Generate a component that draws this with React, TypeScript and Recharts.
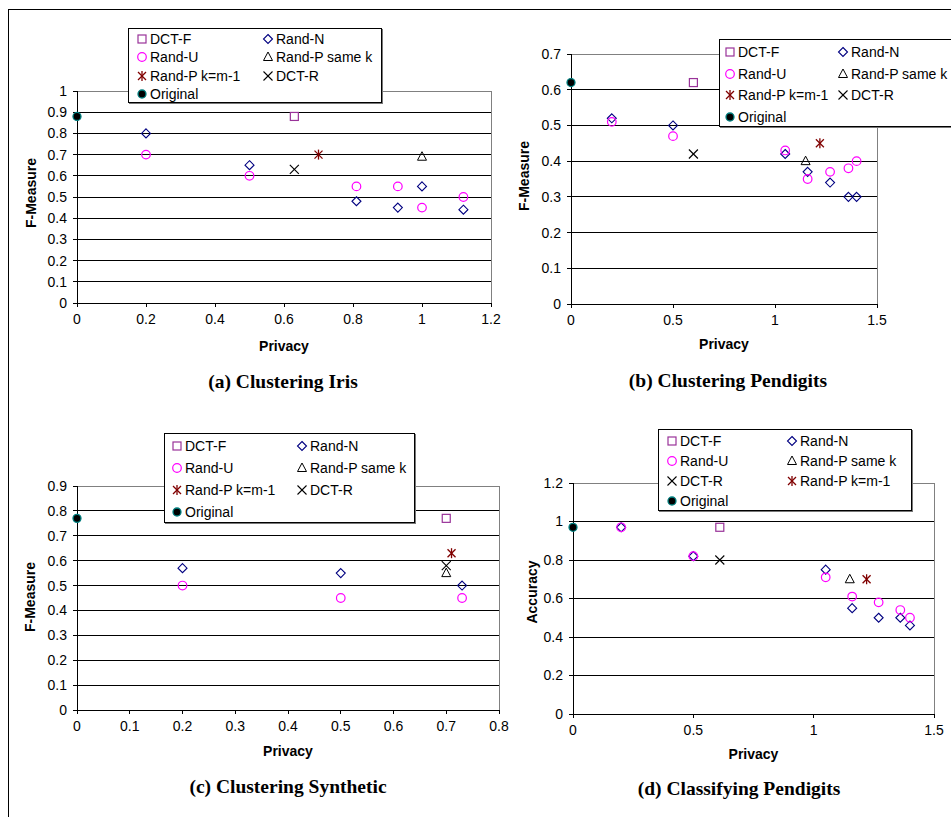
import React from 'react';
import { ScatterChart, Scatter, XAxis, YAxis, CartesianGrid, ReferenceLine, Legend, Label } from 'recharts';

type Pt = [number, number];

// (a) Clustering Iris
const irisOriginal: Pt[] = [[0, 0.88]];
const irisDctF: Pt[] = [[0.63, 0.88]];
const irisRandN: Pt[] = [[0.2, 0.8], [0.5, 0.65], [0.81, 0.48], [0.93, 0.45], [1.0, 0.55], [1.12, 0.44]];
const irisRandU: Pt[] = [[0.2, 0.7], [0.5, 0.6], [0.81, 0.55], [0.93, 0.55], [1.0, 0.45], [1.12, 0.5]];
const irisRandPSame: Pt[] = [[1.0, 0.69]];
const irisRandPM1: Pt[] = [[0.7, 0.7]];
const irisDctR: Pt[] = [[0.63, 0.63]];
const irisXTicks = [0, 0.2, 0.4, 0.6, 0.8, 1, 1.2];
const irisYTicks = [0, 0.1, 0.2, 0.3, 0.4, 0.5, 0.6, 0.7, 0.8, 0.9, 1];

// (b) Clustering Pendigits
const penOriginal: Pt[] = [[0, 0.62]];
const penDctF: Pt[] = [[0.6, 0.62]];
const penRandN: Pt[] = [[0.2, 0.52], [0.5, 0.5], [1.05, 0.42], [1.16, 0.37], [1.27, 0.34], [1.36, 0.3], [1.4, 0.3]];
const penRandU: Pt[] = [[0.2, 0.51], [0.5, 0.47], [1.05, 0.43], [1.16, 0.35], [1.27, 0.37], [1.36, 0.38], [1.4, 0.4]];
const penRandPSame: Pt[] = [[1.15, 0.4]];
const penRandPM1: Pt[] = [[1.22, 0.45]];
const penDctR: Pt[] = [[0.6, 0.42]];
const penXTicks = [0, 0.5, 1, 1.5];
const penYTicks = [0, 0.1, 0.2, 0.3, 0.4, 0.5, 0.6, 0.7];

// (c) Clustering Synthetic
const synOriginal: Pt[] = [[0, 0.77]];
const synDctF: Pt[] = [[0.7, 0.77]];
const synRandN: Pt[] = [[0.2, 0.57], [0.5, 0.55], [0.73, 0.5]];
const synRandU: Pt[] = [[0.2, 0.5], [0.5, 0.45], [0.73, 0.45]];
const synRandPSame: Pt[] = [[0.7, 0.55]];
const synRandPM1: Pt[] = [[0.71, 0.63]];
const synDctR: Pt[] = [[0.7, 0.58]];
const synXTicks = [0, 0.1, 0.2, 0.3, 0.4, 0.5, 0.6, 0.7, 0.8];
const synYTicks = [0, 0.1, 0.2, 0.3, 0.4, 0.5, 0.6, 0.7, 0.8, 0.9];

// (d) Classifying Pendigits
const clsOriginal: Pt[] = [[0, 0.97]];
const clsDctF: Pt[] = [[0.61, 0.97]];
const clsRandN: Pt[] = [[0.2, 0.97], [0.5, 0.82], [1.05, 0.75], [1.16, 0.55], [1.27, 0.5], [1.36, 0.5], [1.4, 0.46]];
const clsRandU: Pt[] = [[0.2, 0.97], [0.5, 0.82], [1.05, 0.71], [1.16, 0.61], [1.27, 0.58], [1.36, 0.54], [1.4, 0.5]];
const clsRandPSame: Pt[] = [[1.15, 0.7]];
const clsRandPM1: Pt[] = [[1.22, 0.7]];
const clsDctR: Pt[] = [[0.61, 0.8]];
const clsXTicks = [0, 0.5, 1, 1.5];
const clsYTicks = [0, 0.2, 0.4, 0.6, 0.8, 1, 1.2];

type Kind = 'square' | 'diamond' | 'circle' | 'triangle' | 'star' | 'cross' | 'dot';

const SERIES: Record<string, { name: string; kind: Kind }> = {
  dctF: { name: 'DCT-F', kind: 'square' },
  randN: { name: 'Rand-N', kind: 'diamond' },
  randU: { name: 'Rand-U', kind: 'circle' },
  randPSame: { name: 'Rand-P same k', kind: 'triangle' },
  randPM1: { name: 'Rand-P k=m-1', kind: 'star' },
  dctR: { name: 'DCT-R', kind: 'cross' },
  original: { name: 'Original', kind: 'dot' },
};

const Marker = ({ kind, cx, cy }: { kind: Kind; cx: number; cy: number }) => {
  switch (kind) {
    case 'square':
      return <rect x={cx - 4} y={cy - 4} width={8} height={8} fill="none" stroke="#993399" strokeWidth={1.2} />;
    case 'diamond':
      return <polygon points={`${cx},${cy - 4.5} ${cx + 4.5},${cy} ${cx},${cy + 4.5} ${cx - 4.5},${cy}`} fill="none" stroke="#000080" strokeWidth={1.1} />;
    case 'circle':
      return <circle cx={cx} cy={cy} r={4.3} fill="none" stroke="#ff00ff" strokeWidth={1.2} />;
    case 'triangle':
      return <polygon points={`${cx},${cy - 5} ${cx + 4.5},${cy + 3.5} ${cx - 4.5},${cy + 3.5}`} fill="none" stroke="#000" strokeWidth={1} />;
    case 'star':
      return (
        <g stroke="#800000" strokeWidth={1.3}>
          <line x1={cx - 4} y1={cy - 4} x2={cx + 4} y2={cy + 4} />
          <line x1={cx + 4} y1={cy - 4} x2={cx - 4} y2={cy + 4} />
          <line x1={cx} y1={cy - 5} x2={cx} y2={cy + 5} />
        </g>
      );
    case 'cross':
      return (
        <g stroke="#000" strokeWidth={1.1}>
          <line x1={cx - 4.5} y1={cy - 4.5} x2={cx + 4.5} y2={cy + 4.5} />
          <line x1={cx + 4.5} y1={cy - 4.5} x2={cx - 4.5} y2={cy + 4.5} />
        </g>
      );
    default:
      return <circle cx={cx} cy={cy} r={4} fill="#000" stroke="#008080" strokeWidth={1.3} />;
  }
};

type LegendCfg = { left: number; top: number; width: number; height: number; x1: number; x2: number; row0: number; rowH: number };

const LegendBox = ({ order, cfg }: { order: string[]; cfg: LegendCfg }) => (
  <div
    style={{
      position: 'relative', width: cfg.width, height: cfg.height, boxSizing: 'border-box',
      border: '1px solid #000', background: '#fff', boxShadow: '1px 1px 0 #777',
      fontSize: 14, color: '#000', lineHeight: '16px',
    }}
  >
    {order.map((key, i) => {
      const sx = i % 2 === 0 ? cfg.x1 : cfg.x2;
      const sy = cfg.row0 + Math.floor(i / 2) * cfg.rowH;
      return (
        <div key={key} style={{ position: 'absolute', left: sx - 6, top: sy - 8, height: 16, whiteSpace: 'nowrap', display: 'flex', alignItems: 'center' }}>
          <svg width={12} height={16} style={{ display: 'block' }}>
            <Marker kind={SERIES[key].kind} cx={6} cy={8} />
          </svg>
          <span style={{ marginLeft: 2 }}>{SERIES[key].name}</span>
        </div>
      );
    })}
  </div>
);

type PanelProps = {
  box: { left: number; top: number; width: number; height: number };
  plot: { x0: number; x1: number; y0: number; y1: number };
  xTicks: number[];
  yTicks: number[];
  yTitle: string;
  yTitlePos: [number, number];
  xTitleY: number;
  caption: string;
  captionPos: [number, number];
  series: Record<string, Pt[]>;
  order: string[];
  legend: LegendCfg;
};

const Panel = ({ box, plot, xTicks, yTicks, yTitle, yTitlePos, xTitleY, caption, captionPos, series, order, legend }: PanelProps) => {
  const yAxisW = 50;
  const xAxisH = 60;
  const margin = {
    top: plot.y0 - box.top,
    left: plot.x0 - box.left - yAxisW,
    right: box.left + box.width - plot.x1,
    bottom: box.top + box.height - plot.y1 - xAxisH,
  };
  const xMax = xTicks[xTicks.length - 1];
  const yMax = yTicks[yTicks.length - 1];
  const xMid = (plot.x0 + plot.x1) / 2 - box.left;
  return (
    <div style={{ position: 'absolute', left: box.left, top: box.top }}>
      <ScatterChart width={box.width} height={box.height} margin={margin}>
        <CartesianGrid vertical={false} stroke="#000" strokeWidth={1} shapeRendering="crispEdges" />
        <XAxis
          type="number" dataKey="x" domain={[0, xMax]} ticks={xTicks} interval={0} height={xAxisH}
          tickSize={4} tickMargin={7} axisLine={{ stroke: '#000', shapeRendering: 'crispEdges' }} tickLine={{ stroke: '#000', shapeRendering: 'crispEdges' }}
          tick={{ fill: '#000', fontSize: 14 }}
        >
          <Label
            content={() => (
              <text x={xMid} y={xTitleY - box.top} textAnchor="middle" fontSize={14} fontWeight="bold" fill="#000">Privacy</text>
            )}
          />
          <Label
            content={() => (
              <text x={captionPos[0] - box.left} y={captionPos[1] - box.top} textAnchor="middle" fontSize={19.5} fontWeight="bold" fill="#000" fontFamily="'Liberation Serif', 'Times New Roman', serif">{caption}</text>
            )}
          />
        </XAxis>
        <YAxis
          type="number" dataKey="y" domain={[0, yMax]} ticks={yTicks} interval={0} width={yAxisW}
          tickSize={4} tickMargin={6} axisLine={{ stroke: '#000', shapeRendering: 'crispEdges' }} tickLine={{ stroke: '#000', shapeRendering: 'crispEdges' }}
          tick={{ fill: '#000', fontSize: 14 }}
        >
          <Label
            content={() => {
              const x = yTitlePos[0] - box.left;
              const y = yTitlePos[1] - box.top;
              return (
                <text x={x} y={y} transform={`rotate(-90, ${x}, ${y})`} textAnchor="middle" fontSize={14} fontWeight="bold" fill="#000">{yTitle}</text>
              );
            }}
          />
        </YAxis>
        <ReferenceLine y={yMax} stroke="#808080" shapeRendering="crispEdges" />
        <ReferenceLine x={xMax} stroke="#808080" shapeRendering="crispEdges" />
        <Legend
          layout="horizontal" verticalAlign="middle" align="center"
          wrapperStyle={{ left: legend.left - box.left, top: legend.top - box.top, width: legend.width, height: legend.height }}
          content={() => <LegendBox order={order} cfg={legend} />}
        />
        {order.map((key) => (
          <Scatter
            key={key}
            name={SERIES[key].name}
            data={series[key].map(([x, y]) => ({ x, y }))}
            isAnimationActive={false}
            shape={(p: any) => <Marker kind={SERIES[key].kind} cx={p.cx} cy={p.cy} />}
          />
        ))}
      </ScatterChart>
    </div>
  );
};

const orderABC = ['dctF', 'randN', 'randU', 'randPSame', 'randPM1', 'dctR', 'original'];
const orderD = ['dctF', 'randN', 'randU', 'randPSame', 'dctR', 'randPM1', 'original'];

export default function App() {
  return (
    <div
      style={{
        position: 'absolute', left: 0, top: 0, width: 951, height: 817, overflow: 'hidden',
        background: '#fff', fontFamily: "'Liberation Sans', Arial, sans-serif",
      }}
    >
      <div style={{ position: 'absolute', left: 8, top: 9, width: 960, height: 820, borderLeft: '1px solid #000', borderTop: '1px solid #000' }} />
      <Panel
        box={{ left: 0, top: 0, width: 520, height: 400 }}
        plot={{ x0: 77, x1: 491, y0: 91, y1: 303 }}
        xTicks={irisXTicks}
        yTicks={irisYTicks}
        yTitle="F-Measure"
        yTitlePos={[36, 193]}
        xTitleY={351}
        caption="(a) Clustering Iris"
        captionPos={[283, 388]}
        series={{ dctF: irisDctF, randN: irisRandN, randU: irisRandU, randPSame: irisRandPSame, randPM1: irisRandPM1, dctR: irisDctR, original: irisOriginal }}
        order={orderABC}
        legend={{ left: 128, top: 28, width: 254, height: 75, x1: 13, x2: 139, row0: 10, rowH: 18.3 }}
      />
      <Panel
        box={{ left: 480, top: 0, width: 471, height: 400 }}
        plot={{ x0: 571, x1: 877, y0: 54, y1: 304 }}
        xTicks={penXTicks}
        yTicks={penYTicks}
        yTitle="F-Measure"
        yTitlePos={[529, 176]}
        xTitleY={349}
        caption="(b) Clustering Pendigits"
        captionPos={[728, 387]}
        series={{ dctF: penDctF, randN: penRandN, randU: penRandU, randPSame: penRandPSame, randPM1: penRandPM1, dctR: penDctR, original: penOriginal }}
        order={orderABC}
        legend={{ left: 719, top: 39, width: 250, height: 88, x1: 10, x2: 123, row0: 12, rowH: 21.7 }}
      />
      <Panel
        box={{ left: 0, top: 410, width: 520, height: 407 }}
        plot={{ x0: 77, x1: 499, y0: 486, y1: 710 }}
        xTicks={synXTicks}
        yTicks={synYTicks}
        yTitle="F-Measure"
        yTitlePos={[35, 597]}
        xTitleY={756}
        caption="(c) Clustering Synthetic"
        captionPos={[288, 793]}
        series={{ dctF: synDctF, randN: synRandN, randU: synRandU, randPSame: synRandPSame, randPM1: synRandPM1, dctR: synDctR, original: synOriginal }}
        order={orderABC}
        legend={{ left: 164, top: 433, width: 251, height: 90, x1: 12, x2: 137, row0: 12, rowH: 22 }}
      />
      <Panel
        box={{ left: 480, top: 410, width: 471, height: 407 }}
        plot={{ x0: 573, x1: 934, y0: 483, y1: 714 }}
        xTicks={clsXTicks}
        yTicks={clsYTicks}
        yTitle="Accuracy"
        yTitlePos={[537, 592]}
        xTitleY={759}
        caption="(d) Classifying Pendigits"
        captionPos={[739, 795]}
        series={{ dctF: clsDctF, randN: clsRandN, randU: clsRandU, randPSame: clsRandPSame, randPM1: clsRandPM1, dctR: clsDctR, original: clsOriginal }}
        order={orderD}
        legend={{ left: 658, top: 429, width: 254, height: 82, x1: 13, x2: 133, row0: 11, rowH: 20 }}
      />
    </div>
  );
}
